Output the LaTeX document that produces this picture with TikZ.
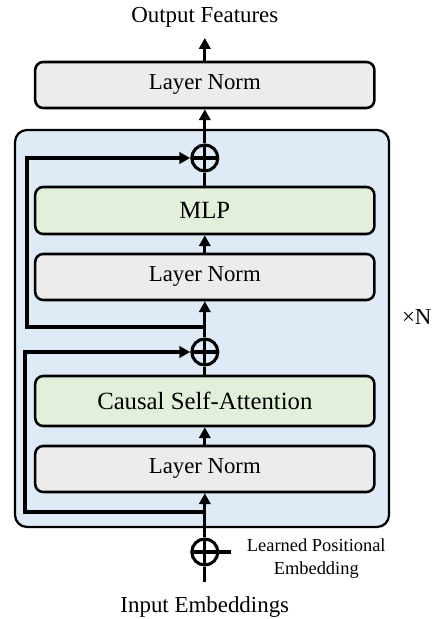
\documentclass[tikz,border=0pt]{standalone}
\usepackage{fontspec}
\setmainfont{Liberation Serif}
\usetikzlibrary{calc, arrows.meta}

\definecolor{normgray}{RGB}{236, 236, 236}
\definecolor{opgreen}{RGB}{226, 239, 218}
\definecolor{stackblue}{RGB}{222, 235, 247}

\tikzset{
    block/.style = {draw = black, line width = 1.8pt, rounded corners = 0.2cm, minimum width = 8.48cm, align = center},
    normbox/.style = {block, fill = normgray, minimum height = 1.15cm, font = \fontsize{16.2pt}{19pt}\selectfont},
    opbox/.style = {block, fill = opgreen, font = \fontsize{17.6pt}{21pt}\selectfont},
    addnode/.style = {circle, draw = black, line width = 2.2pt, minimum size = 0.65cm, inner sep = 0pt,
        path picture = {\draw[line width = 2.2pt] (path picture bounding box.north) -- (path picture bounding box.south) (path picture bounding box.west) -- (path picture bounding box.east);}},
    wire/.style = {line width = 2.4pt},
    flow/.style = {wire, -{Triangle[length = 0.27cm, width = 0.28cm]}},
    label/.style = {align = center, font = \fontsize{16.3pt}{19pt}\selectfont}
}

\begin{document}
\begin{tikzpicture}
            \useasboundingbox (0, 0) rectangle (10.95, 15.475);

            \draw[fill = stackblue, line width = 1.6pt, rounded corners = 0.3cm] (0.375, 2.3) rectangle (9.725, 12.225);
            \node[label] (times) at (10.42, 7.55) {×N};

            \node[label] (output) at (5.12, 15.03) {Output Features};
            \coordinate (outtip) at (5.12, 14.525);
            \node[normbox] (lnout) at (5.12, 13.35) {Layer Norm};

            \node[addnode] (add2) at (5.12, 11.525) {};
            \node[opbox, minimum height = 1.175cm] (mlp) at (5.12, 10.2125) {MLP};
            \node[normbox] (ln2) at (5.12, 8.55) {Layer Norm};

            \node[addnode] (add1) at (5.12, 6.675) {};
            \node[opbox, minimum height = 1.25cm] (attn) at (5.12, 5.45) {Causal Self-Attention};
            \node[normbox] (ln1) at (5.12, 3.75) {Layer Norm};

            \node[addnode] (pos) at (5.12, 1.675) {};
            \node[align = center, anchor = west, font = \fontsize{13.1pt}{16.3pt}\selectfont] (posname) at (6.05, 1.5) {Learned Positional\\Embedding};
            \node[label] (input) at (5.12, 0.3) {Input Embeddings};
            \coordinate (inbot) at (5.12, 0.925);

            \coordinate (split1) at (5.12, 2.675);
            \coordinate (skip1) at (0.625, 2.675);
            \coordinate (split2) at (5.12, 7.3);
            \coordinate (skip2) at (0.675, 7.3);

            \draw[wire](inbot) -- (pos.south);
            \draw[wire](pos.east) -- ++(0.28, 0);
            \draw[flow](pos.north) -- (ln1.south);
            \draw[flow](ln1.north) -- (attn.south);
            \draw[wire](attn.north) -- (add1.south);
            \draw[flow](add1.north) -- (ln2.south);
            \draw[flow](ln2.north) -- (mlp.south);
            \draw[wire](mlp.north) -- (add2.south);
            \draw[flow](add2.north) -- (lnout.south);
            \draw[flow](lnout.north) -- (outtip);

            \draw[flow](split1) -- (skip1) |- (add1.west);
            \draw[flow](split2) -- (skip2) |- (add2.west);
        \end{tikzpicture}
\end{document}
